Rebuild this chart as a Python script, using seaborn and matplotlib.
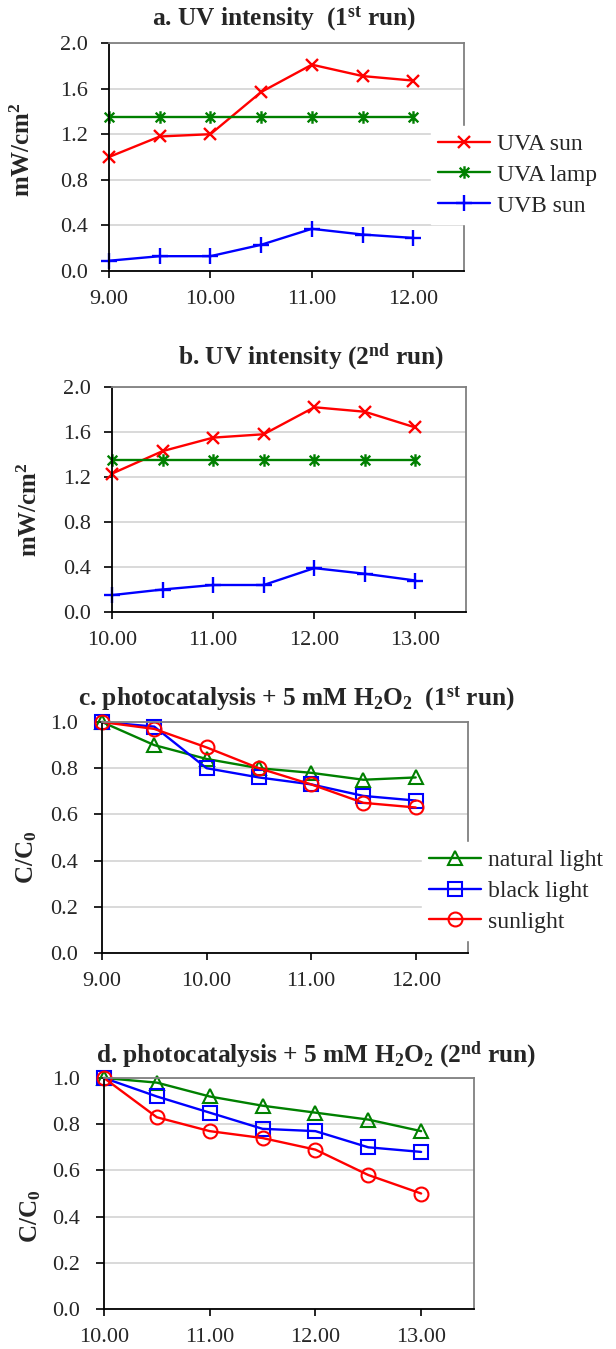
import numpy as np
import pandas as pd
import matplotlib
matplotlib.use("Agg")
import matplotlib.pyplot as plt
import seaborn as sns
from matplotlib.path import Path

# ---------------- data ----------------
time_run1 = [9.0, 9.5, 10.0, 10.5, 11.0, 11.5, 12.0]
time_run2 = [10.0, 10.5, 11.0, 11.5, 12.0, 12.5, 13.0]

uva_sun_1 = [1.00, 1.18, 1.20, 1.57, 1.81, 1.71, 1.67]
uva_lamp_1 = [1.35, 1.35, 1.35, 1.35, 1.35, 1.35, 1.35]
uvb_sun_1 = [0.09, 0.13, 0.13, 0.23, 0.37, 0.32, 0.29]

uva_sun_2 = [1.23, 1.43, 1.55, 1.58, 1.82, 1.78, 1.64]
uva_lamp_2 = [1.35, 1.35, 1.35, 1.35, 1.35, 1.35, 1.35]
uvb_sun_2 = [0.15, 0.20, 0.24, 0.24, 0.39, 0.34, 0.28]

natural_1 = [1.00, 0.90, 0.84, 0.80, 0.78, 0.75, 0.76]
black_1 = [1.00, 0.98, 0.80, 0.76, 0.73, 0.68, 0.66]
sun_1 = [1.00, 0.97, 0.89, 0.80, 0.73, 0.65, 0.63]

natural_2 = [1.00, 0.98, 0.92, 0.88, 0.85, 0.82, 0.77]
black_2 = [1.00, 0.92, 0.85, 0.78, 0.77, 0.70, 0.68]
sun_2 = [1.00, 0.83, 0.77, 0.74, 0.69, 0.58, 0.50]

uv_labels = ["UVA sun", "UVA lamp", "UVB sun"]
cc_labels = ["natural light", "black light", "sunlight"]
xticks_run1 = [9, 10, 11, 12]
xticks_run2 = [10, 11, 12, 13]
uv_yticks = [0.0, 0.4, 0.8, 1.2, 1.6, 2.0]
cc_yticks = [0.0, 0.2, 0.4, 0.6, 0.8, 1.0]

# ---------------- style ----------------
sns.set_theme(style="white")
plt.rcParams["font.family"] = ["Liberation Serif", "DejaVu Serif"]
plt.rcParams["mathtext.fontset"] = "custom"
plt.rcParams["mathtext.rm"] = "Liberation Serif"
plt.rcParams["mathtext.bf"] = "Liberation Serif:bold"
plt.rcParams["mathtext.it"] = "Liberation Serif:italic"

RED = "#FF0000"
GREEN = "#008000"
BLUE = "#0000FF"

W, H = 616, 1349
fig = plt.figure(figsize=(W / 100, H / 100), dpi=100)


def px_axes(left, top, right, bottom):
    return fig.add_axes([left / W, 1 - bottom / H, (right - left) / W, (bottom - top) / H])


asterisk = Path(
    [(-1, -1), (1, 1), (-1, 1), (1, -1), (0, -1.3), (0, 1.3)],
    [Path.MOVETO, Path.LINETO, Path.MOVETO, Path.LINETO, Path.MOVETO, Path.LINETO],
)

TICK_FS = 16
TITLE_FS = 18.3
LEG_FS = 17
YLAB_FS = 18


def style_axes(ax, xlim, xticks, ylim, yticks, yfmt, ypad):
    ax.set_xlim(*xlim)
    ax.set_ylim(*ylim)
    ax.set_xticks(xticks)
    ax.set_xticklabels([f"{t:.2f}" for t in xticks])
    ax.set_yticks(yticks)
    ax.set_yticklabels([yfmt.format(t) for t in yticks])
    ax.grid(axis="y", color="#D0D0D0", linewidth=1.1)
    ax.grid(axis="x", visible=False)
    ax.set_axisbelow(True)
    for s in ["left", "bottom"]:
        ax.spines[s].set_color("black")
        ax.spines[s].set_linewidth(1.3)
    for s in ["top", "right"]:
        ax.spines[s].set_color("#808080")
        ax.spines[s].set_linewidth(1.3)
    ax.tick_params(axis="x", which="both", bottom=True, direction="out", length=5,
                   width=1.2, color="black", labelsize=TICK_FS, pad=9)
    ax.tick_params(axis="y", which="both", left=True, direction="out", length=6,
                   width=1.2, color="black", labelsize=TICK_FS, pad=ypad)
    ax.set_xlabel("")
    ax.set_ylabel("")


def uv_panel(ax, t, a_sun, a_lamp, b_sun):
    sns.lineplot(x=t, y=a_sun, ax=ax, color=RED, linewidth=1.7, marker="x",
                 markersize=9, markeredgecolor=RED, markeredgewidth=1.7,
                 label=uv_labels[0], legend=False)
    sns.lineplot(x=t, y=a_lamp, ax=ax, color=GREEN, linewidth=1.7, marker=asterisk,
                 markersize=9, markeredgecolor=GREEN, markeredgewidth=1.7,
                 markerfacecolor="none", label=uv_labels[1], legend=False)
    sns.lineplot(x=t, y=b_sun, ax=ax, color=BLUE, linewidth=1.7, marker="+",
                 markersize=11, markeredgecolor=BLUE, markeredgewidth=1.7,
                 label=uv_labels[2], legend=False)


def cc_panel(ax, t, nat, blk, sun):
    sns.lineplot(x=t, y=nat, ax=ax, color=GREEN, linewidth=1.7, marker="^",
                 markersize=10, markeredgecolor=GREEN, markeredgewidth=1.5,
                 markerfacecolor="none", label=cc_labels[0], legend=False)
    sns.lineplot(x=t, y=blk, ax=ax, color=BLUE, linewidth=1.7, marker="s",
                 markersize=9.5, markeredgecolor=BLUE, markeredgewidth=1.5,
                 markerfacecolor="none", label=cc_labels[1], legend=False)
    sns.lineplot(x=t, y=sun, ax=ax, color=RED, linewidth=1.7, marker="o",
                 markersize=10, markeredgecolor=RED, markeredgewidth=1.5,
                 markerfacecolor="none", label=cc_labels[2], legend=False)


def add_legend(ax, left_px, center_px):
    leg = ax.legend(loc="center left",
                    bbox_to_anchor=(left_px / W, 1 - center_px / H),
                    bbox_transform=fig.transFigure,
                    frameon=True, fancybox=False, facecolor="white",
                    edgecolor="white", framealpha=1.0, fontsize=LEG_FS,
                    handlelength=2.2, handletextpad=0.3, labelspacing=0.4,
                    borderpad=0.3, borderaxespad=0)
    leg.set_zorder(10)
    return leg


# ---- panel a ----
ax_a = px_axes(109, 43, 464, 271)
uv_panel(ax_a, time_run1, uva_sun_1, uva_lamp_1, uvb_sun_1)
style_axes(ax_a, (9, 12.5), xticks_run1, (0, 2.0), uv_yticks, "{:.1f}", 9)
add_legend(ax_a, 431, 175)

# ---- panel b ----
ax_b = px_axes(112, 387, 466, 612)
uv_panel(ax_b, time_run2, uva_sun_2, uva_lamp_2, uvb_sun_2)
style_axes(ax_b, (10, 13.5), xticks_run2, (0, 2.0), uv_yticks, "{:.1f}", 9)

# ---- panel c ----
ax_c = px_axes(102, 722, 468, 953)
cc_panel(ax_c, time_run1, natural_1, black_1, sun_1)
style_axes(ax_c, (9, 12.5), xticks_run1, (0, 1.0), cc_yticks, "{:.1f}", 11)
add_legend(ax_c, 422, 891)

# ---- panel d ----
ax_d = px_axes(104, 1078, 474, 1309)
cc_panel(ax_d, time_run2, natural_2, black_2, sun_2)
style_axes(ax_d, (10, 13.5), xticks_run2, (0, 1.0), cc_yticks, "{:.1f}", 11)

for a in (ax_a, ax_b, ax_c, ax_d):
    for ln in a.get_lines():
        ln.set_clip_on(False)

# ---- titles ----
fig.text(284 / W, 1 - 19 / H, r"a. UV intensity  (1$^{\mathbf{st}}$ run)",
         ha="center", va="center", fontsize=TITLE_FS, fontweight="bold")
fig.text(311 / W, 1 - 357 / H, r"b. UV intensity (2$^{\mathbf{nd}}$ run)",
         ha="center", va="center", fontsize=TITLE_FS, fontweight="bold")
fig.text(296 / W, 1 - 699 / H,
         r"c. photocatalysis + 5 mM H$_{\mathbf{2}}$O$_{\mathbf{2}}$  (1$^{\mathbf{st}}$ run)",
         ha="center", va="center", fontsize=TITLE_FS, fontweight="bold")
fig.text(316 / W, 1 - 1055 / H,
         r"d. photocatalysis + 5 mM H$_{\mathbf{2}}$O$_{\mathbf{2}}$ (2$^{\mathbf{nd}}$ run)",
         ha="center", va="center", fontsize=TITLE_FS, fontweight="bold")

# ---- y labels ----
fig.text(23 / W, 1 - 150 / H, r"mW/cm$^{\mathbf{2}}$", rotation=90, ha="center",
         va="center", fontsize=YLAB_FS, fontweight="bold")
fig.text(30 / W, 1 - 510 / H, r"mW/cm$^{\mathbf{2}}$", rotation=90, ha="center",
         va="center", fontsize=YLAB_FS, fontweight="bold")
fig.text(27 / W, 1 - 857 / H, r"C/C$_{\mathbf{0}}$", rotation=90, ha="center",
         va="center", fontsize=YLAB_FS, fontweight="bold")
fig.text(31 / W, 1 - 1216 / H, r"C/C$_{\mathbf{0}}$", rotation=90, ha="center",
         va="center", fontsize=YLAB_FS, fontweight="bold")

fig.savefig("out.png", dpi=100, facecolor="white")
